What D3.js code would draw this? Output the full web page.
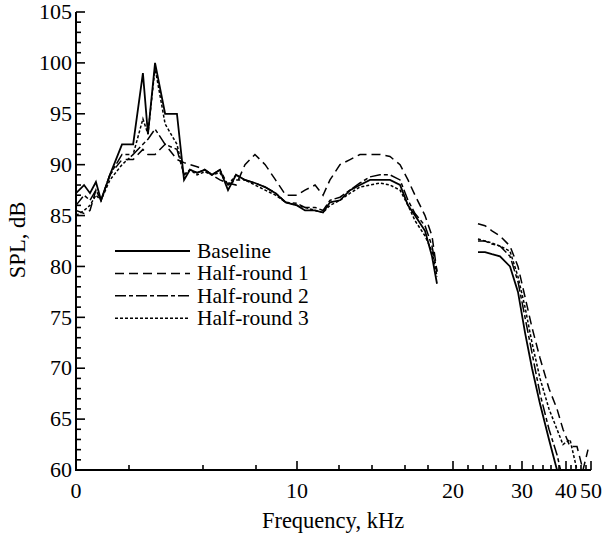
<!DOCTYPE html>
<html><head><meta charset="utf-8">
<script src="https://cdn.jsdelivr.net/npm/d3@7"></script>
<style>body{margin:0;background:#fff}svg{display:block}</style>
</head><body>
<script>
const freq = [0,0.38,0.66,0.94,1.18,1.6,2.17,2.64,2.97,3.14,3.38,3.72,4.12,4.36,4.56,4.8,5.09,5.42,5.8,6.18,6.56,6.98,7.45,8.06,8.69,9.31,10,10.38,10.86,11.24,11.57,12.06,12.67,13.27,13.88,14.48,15.09,15.7,16.26,16.87,17.74,18.32,18.72,
  null,
  23.33,24.31,25.38,26.57,28,29.33,30.55,31.82,33.4,35.5,37.5,39.14,41.6,44.4,46.8,48.8];
const baseline = [87.2,88,87.2,88.3,86.5,89,92,92,99,93,100,95,95,88.5,89.5,89.2,89.5,89,89.5,87.5,89,88.5,88.2,87.8,87.2,86.3,86,85.5,85.5,85.3,86.3,86.5,87.5,88,88.5,88.5,88.5,88,86,85,83.5,81,78.3,
  null,
  81.4,81.4,81.2,81,80,77.5,73.5,70,66.5,63,60,57,55,54,53,52];
const half1 = [85.5,85.2,85.5,87.5,86.5,89,90.5,90.5,91.5,91,91,92,90.5,90.2,90,89.8,89.5,89,88.5,88.2,88,90,91,90,88.5,87,87,87.5,88,87,88.5,90,90.5,91,91,91,90.8,90,88.5,87,85,83,79.5,
  null,
  84.2,84,83.5,83,82,80,77,74,71,68,66,64,62.3,62.3,60,62];
const half2 = [86,87,86.5,87.5,86.5,89,91,91,92,92.5,93.5,92,91.5,89,89.5,89.2,89.5,89,89.5,88,88.5,88.5,88.2,87.8,87.2,86.3,86.2,85.8,85.8,85.5,86.5,86.8,87.5,88.2,88.8,89,89,88.5,86.5,85.2,84,82,79.5,
  null,
  82.5,82.5,82.2,82,81,78.5,75,71.5,67.5,64,61.5,59,57,55,54,53];
const half3 = [85,85.5,86,87,86.5,88.5,90,91,94.5,93,99.5,94,92,89,89.5,89,89.3,89,89.2,88,89,88.5,88,87.5,87,86.3,86,85.8,85.5,85.3,86,86.5,87.2,87.8,88,88.2,88,87.5,86,84.5,83,81.5,79,
  null,
  82.7,82.5,82.3,82,81.5,79,76,72.5,69,66,64,62.5,63,60,58,57];
const seriesNames = ["Baseline","Half-round 1","Half-round 2","Half-round 3"];
const xTickMajor = [0,10,20,30,40,50];
const xTickMinor = [2.5,5,7.5,12,14,16,18,22,24,26,28,32,34,36,38,42,44,46,48];
const yTickMajor = [60,65,70,75,80,85,90,95,100,105];

const FONT="Liberation Serif";
const W=602,H=535;
const svg=d3.select("body").append("svg").attr("width",W).attr("height",H);
// piecewise frequency axis (nonuniform tick spacing as in the original)
const xKnots=[0,2.5,5,7.5,10,12,14,16,18,20,22,24,26,28,30,32,34,36,38,40,42,44,46,48,50];
const xPx=[76,129,203,256,297,339,372,405,428,453,468,483,496,510,522,533,543,551,559,566,571,576,581,586,591];
const x=d3.scaleLinear().domain(xKnots).range(xPx);
const y0=470,y1=12;
const y=d3.scaleLinear().domain([60,105]).range([y0,y1]);

svg.append("defs").append("clipPath").attr("id","clip").append("rect")
  .attr("x",76).attr("y",y1).attr("width",524).attr("height",y0-y1);

const styles=[
  {w:1.8,dash:null},
  {w:1.5,dash:"9,5"},
  {w:1.5,dash:"11,3,4,3"},
  {w:1.5,dash:"3,2"}
];
const data=[baseline,half1,half2,half3];
const line=d3.line().defined((d,i)=>d!=null&&freq[i]!=null).x((d,i)=>x(freq[i])).y(d=>y(d));
const g=svg.append("g").attr("clip-path","url(#clip)");
data.forEach((s,k)=>{
  g.append("path").attr("d",line(s)).attr("fill","none").attr("stroke","#000")
   .attr("stroke-width",styles[k].w).attr("stroke-dasharray",styles[k].dash);
});

const fs=22;
const xAxis=svg.append("g").attr("transform",`translate(0,${y0})`);
xAxis.append("line").attr("x1",75).attr("x2",591).attr("stroke","#000").attr("stroke-width",2);
xAxis.selectAll(".mj").data(xTickMajor).join("line").attr("x1",d=>x(d)).attr("x2",d=>x(d)).attr("y1",0).attr("y2",-9).attr("stroke","#000").attr("stroke-width",1.6);
xAxis.selectAll(".mn").data(xTickMinor).join("line").attr("x1",d=>x(d)).attr("x2",d=>x(d)).attr("y1",0).attr("y2",-5).attr("stroke","#000").attr("stroke-width",1.6);
xAxis.selectAll("text").data(xTickMajor).join("text").attr("x",d=>x(d)).attr("y",28).attr("text-anchor","middle")
  .attr("font-family",FONT).attr("font-size",fs).text(d=>d);

const yAxis=svg.append("g").attr("transform","translate(76,0)");
yAxis.append("line").attr("y1",y1).attr("y2",y0+1).attr("stroke","#000").attr("stroke-width",2);
yAxis.selectAll(".mj").data(yTickMajor).join("line").attr("y1",d=>y(d)).attr("y2",d=>y(d)).attr("x1",0).attr("x2",9).attr("stroke","#000").attr("stroke-width",1.6);
yAxis.selectAll(".mn").data(d3.range(60,105,1).filter(v=>v%5)).join("line").attr("y1",d=>y(d)).attr("y2",d=>y(d)).attr("x1",0).attr("x2",5).attr("stroke","#000").attr("stroke-width",1.6);
yAxis.selectAll("text").data(yTickMajor).join("text").attr("x",-4).attr("y",d=>y(d)).attr("dy","0.33em").attr("text-anchor","end")
  .attr("font-family",FONT).attr("font-size",fs).text(d=>d);

svg.append("text").attr("x",333).attr("y",528).attr("text-anchor","middle").attr("font-family",FONT).attr("font-size",22.5).text("Frequency, kHz");
svg.append("text").attr("transform","translate(25,240) rotate(-90)").attr("text-anchor","middle").attr("font-family",FONT).attr("font-size",22.5).text("SPL, dB");

const leg=svg.append("g");
seriesNames.forEach((n,k)=>{
  const yy=251+k*22.4;
  leg.append("line").attr("x1",115).attr("x2",190).attr("y1",yy).attr("y2",yy).attr("stroke","#000")
    .attr("stroke-width",styles[k].w).attr("stroke-dasharray",styles[k].dash);
  leg.append("text").attr("x",197).attr("y",yy).attr("dy","0.33em").attr("font-family",FONT).attr("font-size",21.5).text(n);
});
</script>
</body></html>
